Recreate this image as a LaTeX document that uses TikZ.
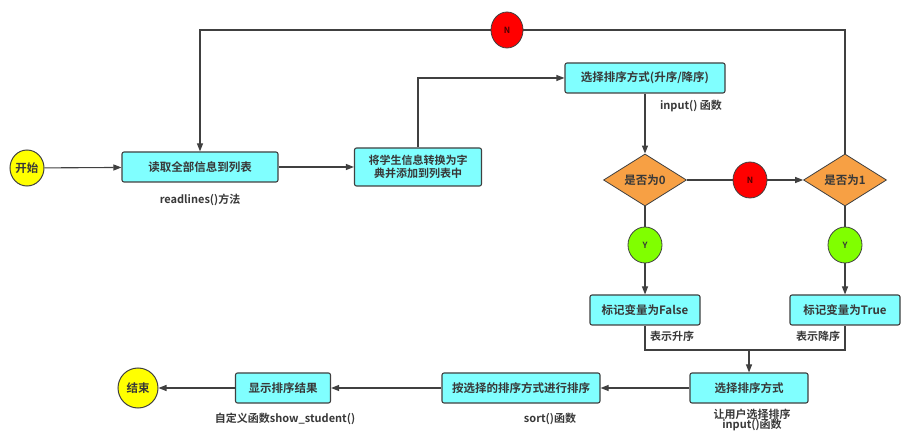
\documentclass[tikz,border=0pt]{standalone}
\usepackage{fontspec}
\setmainfont{Noto Sans CJK SC}[BoldFont={Noto Sans CJK SC Bold}]
\usetikzlibrary{shapes.geometric,arrows.meta}

\definecolor{boxcyan}{RGB}{128,255,255}
\definecolor{decorange}{RGB}{247,160,68}
\definecolor{yesgreen}{RGB}{128,255,0}
\definecolor{nored}{RGB}{255,0,0}
\definecolor{termyellow}{RGB}{255,255,0}
\definecolor{ink}{RGB}{64,64,64}

\begin{document}
\begin{tikzpicture}[x=1pt,y=-1pt,
  every node/.style={text=black!78,font=\fontsize{11.5}{14}\selectfont\bfseries},
  box/.style={draw=ink,line width=1.1pt,fill=boxcyan,rounded corners=2pt,
    minimum height=30pt,inner sep=2pt,align=center},
  dec/.style={diamond,draw=ink,line width=.8pt,fill=decorange,
    minimum width=83pt,minimum height=46pt,inner sep=0pt},
  term/.style={ellipse,draw=ink,line width=1pt,fill=termyellow,inner sep=0pt},
  yes/.style={ellipse,draw=ink,line width=.8pt,fill=yesgreen,
    minimum width=34pt,minimum height=36pt,inner sep=0pt,font=\fontsize{8.5}{10}\selectfont\bfseries},
  no/.style={ellipse,draw=ink,line width=.8pt,fill=nored,text=black!70!red,
    minimum width=34pt,minimum height=36pt,inner sep=0pt,font=\fontsize{8.5}{10}\selectfont\bfseries},
  note/.style={font=\fontsize{11}{13}\selectfont\bfseries,align=center,inner sep=1pt},
  line/.style={draw=ink,line width=1.1pt},
  arr/.style={line,-{Triangle[length=8pt,width=6pt]}}]

\useasboundingbox (0,0) rectangle (910,435);

% first row
\node[term,minimum width=34pt,minimum height=36pt] (start) at (27,168) {开始};
\node[box,minimum width=156pt] (read) at (200,167) {读取全部信息到列表};
\node[note] (readnote) at (200,200) {readlines()方法};
\node[box,minimum width=127pt,minimum height=38pt,font=\fontsize{11}{13.5}\selectfont\bfseries] (conv) at (418,167)
  {将学生信息转换为字\\典并添加到列表中};
\node[box,minimum width=160pt] (mode) at (645,78) {选择排序方式(升序/降序)};
\node[note] (modenote) at (691,106) {input() 函数};

% decisions
\node[dec] (zero) at (645,180) {是否为0};
\node[no] (nmid) at (750,180) {N};
\node[dec] (one) at (845,180) {是否为1};
\node[no,minimum width=32pt,minimum height=36pt] (ntop) at (507,30) {N};
\node[yes] (yzero) at (645,245) {Y};
\node[yes] (yone) at (845,245) {Y};

\node[box,minimum width=110pt] (false) at (645,310) {标记变量为False};
\node[note] (falsenote) at (672,336) {表示升序};
\node[box,minimum width=110pt] (true) at (845,310) {标记变量为True};
\node[note] (truenote) at (818,336) {表示降序};

% bottom row
\node[box,minimum width=118pt] (pick) at (749,388) {选择排序方式};
\node[note] (picknote) at (752,420) {让用户选择排序\\[-3pt]input()函数};
\node[box,minimum width=158pt] (sort) at (521,388) {按选择的排序方式进行排序};
\node[note] (sortnote) at (550,419) {sort()函数};
\node[box,minimum width=95pt] (show) at (283,388) {显示排序结果};
\node[note] (shownote) at (285,419) {自定义函数show\_student()};
\node[term,minimum width=40pt,minimum height=40pt] (end) at (138,388) {结束};

\coordinate (merge) at (749,350);

\draw[arr] (start) -- (read);
\draw[arr] (read) -- (conv);
\draw[arr] (conv.north) |- (mode.west);
\draw[arr] (mode) -- (zero);
\draw[line] (zero) -- (nmid);
\draw[arr] (nmid) -- (one);
\draw[line] (one.north) |- (ntop);
\draw[arr] (ntop) -| (read.north);
\draw[line] (zero) -- (yzero);
\draw[arr] (yzero) -- (false);
\draw[line] (one) -- (yone);
\draw[arr] (yone) -- (true);
\draw[line] (false.south) |- (merge) -| (true.south);
\draw[arr] (merge) -- (pick);
\draw[arr] (pick) -- (sort);
\draw[arr] (sort) -- (show);
\draw[arr] (show) -- (end);

\end{tikzpicture}
\end{document}
